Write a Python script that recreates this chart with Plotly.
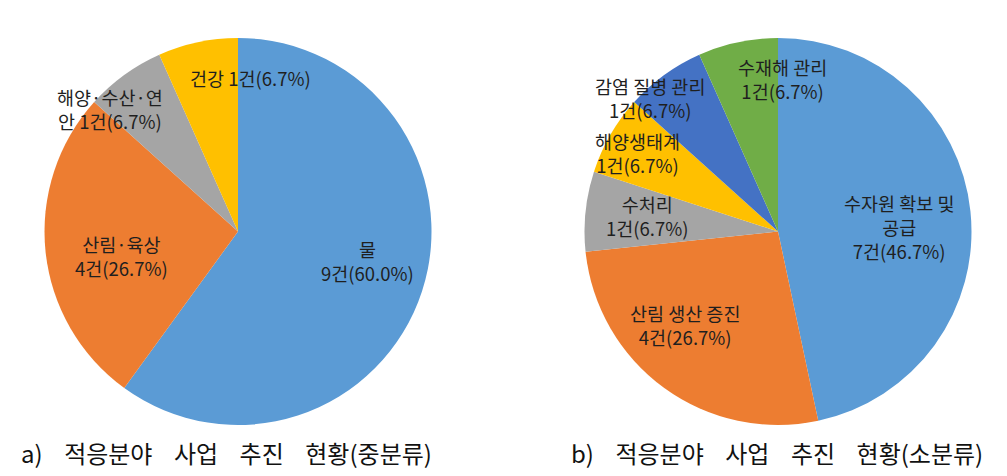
import plotly.graph_objects as go

W, H = 1007, 476

# Left pie (중분류)
mid_names = ["물", "산림·육상", "해양·수산·연안", "건강"]
mid_counts = [9, 4, 1, 1]
mid_label_text = ["물<br>9건(60.0%)", "산림·육상<br>4건(26.7%)", "해양·수산·연<br>안 1건(6.7%)", "건강 1건(6.7%)"]

# Right pie (소분류)
sub_names = ["수자원 확보 및 공급", "산림 생산 증진", "수처리", "해양생태계", "감염 질병 관리", "수재해 관리"]
sub_counts = [7, 4, 1, 1, 1, 1]
sub_label_text = ["수자원 확보 및<br>공급<br>7건(46.7%)", "산림 생산 증진<br>4건(26.7%)", "수처리<br>1건(6.7%)",
                  "해양생태계<br>1건(6.7%)", "감염 질병 관리<br>1건(6.7%)", "수재해 관리<br>1건(6.7%)"]

caption_words = [["a)", "적응분야", "사업", "추진", "현황(중분류)"],
                 ["b)", "적응분야", "사업", "추진", "현황(소분류)"]]
captions = [("\u00a0" * 4).join(w) for w in caption_words]

colors_mid = ["#5B9BD5", "#ED7D31", "#A5A5A5", "#FFC000"]
colors_sub = ["#5B9BD5", "#ED7D31", "#A5A5A5", "#FFC000", "#4472C4", "#70AD47"]

FONT = "Noto Sans CJK KR"
R = 193.5


def dom(cx, cy):
    return dict(x=[(cx - R) / W, (cx + R) / W], y=[1 - (cy + R) / H, 1 - (cy - R) / H])


fig = go.Figure()
fig.add_trace(go.Pie(labels=mid_names, values=mid_counts, sort=False, direction="clockwise", rotation=0,
                     marker=dict(colors=colors_mid, line=dict(width=0)), textinfo="none",
                     hoverinfo="label+value+percent", domain=dom(238, 231.5), showlegend=False))
fig.add_trace(go.Pie(labels=sub_names, values=sub_counts, sort=False, direction="clockwise", rotation=0,
                     marker=dict(colors=colors_sub, line=dict(width=0)), textinfo="none",
                     hoverinfo="label+value+percent", domain=dom(778, 231.5), showlegend=False))

# label placement (pixel centres)
mid_pos = [(367, 261), (121, 256), (110, 109), (250, 78)]
sub_pos = [(899, 227), (685, 325), (647, 216), (637, 153), (650, 98), (782, 79)]

annos = []
for txt, (x, y) in zip(mid_label_text + sub_label_text, mid_pos + sub_pos):
    annos.append(dict(x=x / W, y=1 - y / H, xref="paper", yref="paper", text=txt, showarrow=False,
                      xanchor="center", yanchor="middle",
                      font=dict(family=FONT, size=18.5, color="#1f1f1f"), align="center"))
for txt, x in zip(captions, [226, 777]):
    annos.append(dict(x=x / W, y=1 - 452 / H, xref="paper", yref="paper", text=txt, showarrow=False,
                      xanchor="center", yanchor="middle",
                      font=dict(family=FONT, size=24, color="#111111"), align="center"))

fig.update_layout(width=W, height=H, margin=dict(l=0, r=0, t=0, b=0), paper_bgcolor="white",
                  plot_bgcolor="white", annotations=annos)

fig.write_html("out.html")
